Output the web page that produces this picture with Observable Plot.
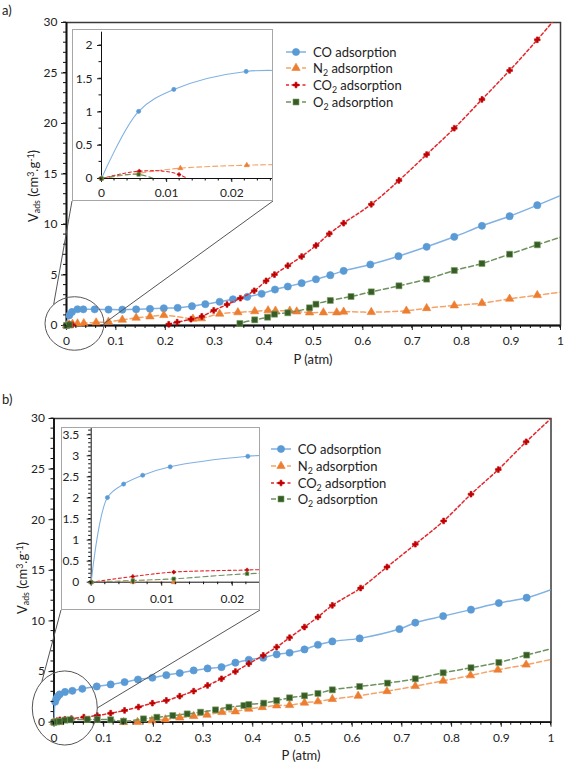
<!DOCTYPE html>
<html><head><meta charset="utf-8">
<script src="https://cdn.jsdelivr.net/npm/d3@7"></script>
<script src="https://cdn.jsdelivr.net/npm/@observablehq/plot@0.6"></script>
<style>
body{margin:0;background:#fff;font-family:Lato,"Open Sans",sans-serif;color:#222}
#root{position:relative;width:568px;height:766px;overflow:hidden;background:#fff}
.lbl{position:absolute;font-size:13px;white-space:nowrap;line-height:1}
.ylab{transform:translate(-50%,-50%) rotate(-90deg)}
.xlab{transform:translate(-50%,-50%)}
sub,sup{font-size:68%;line-height:0}
sub{vertical-align:-0.3em}
sup{vertical-align:0.45em}
.legend{position:absolute;font-size:13px}
.legend .row{display:flex;align-items:center;height:16.7px;white-space:nowrap}
.legend svg{display:block;margin-right:7px}
</style></head><body><div id="root"></div>
<script>
// ---------------- data (P in atm, V in cm3/g) ----------------
const seriesKeys = ["CO", "N2", "CO2", "O2"];
const legendLabels = ["CO adsorption", "N<sub>2</sub> adsorption", "CO<sub>2</sub> adsorption", "O<sub>2</sub> adsorption"];
const xTicks = [0, 0.1, 0.2, 0.3, 0.4, 0.5, 0.6, 0.7, 0.8, 0.9, 1];
const yTicks = [0, 5, 10, 15, 20, 25, 30];
const insetXTicks = [0, 0.01, 0.02];
const insetYTicksA = [0, 0.5, 1, 1.5, 2];
const insetYTicksB = [0, 0.5, 1, 1.5, 2, 2.5, 3, 3.5];

// panel a)
const coA = [[0,0],[0.0057,1.01],[0.0111,1.34],[0.0222,1.61],[0.034,1.6],[0.057,1.6],[0.085,1.58],[0.113,1.57],[0.141,1.6],[0.169,1.65],[0.197,1.71],[0.225,1.75],[0.254,1.91],[0.281,2.11],[0.31,2.35],[0.337,2.6],[0.366,2.84],[0.395,3.14],[0.422,3.56],[0.448,3.86],[0.476,4.19],[0.505,4.58],[0.534,4.98],[0.561,5.41],[0.615,6.04],[0.672,6.86],[0.729,7.79],[0.785,8.78],[0.841,9.87],[0.897,10.82],[0.953,11.91],[1.0,12.87]];
const n2A = [[0,0],[0.0057,0.08],[0.0121,0.155],[0.0223,0.2],[0.035,0.22],[0.06,0.3],[0.085,0.37],[0.113,0.56],[0.141,0.76],[0.169,0.89],[0.197,1.02],[0.256,0.66],[0.273,0.7],[0.31,1.16],[0.347,1.3],[0.381,1.4],[0.408,1.49],[0.423,1.46],[0.452,1.46],[0.466,1.38],[0.492,1.28],[0.52,1.29],[0.547,1.29],[0.561,1.36],[0.617,1.32],[0.688,1.46],[0.729,1.71],[0.785,1.98],[0.841,2.21],[0.897,2.64],[0.953,3.0],[1.0,3.3]];
const co2A = [[0,0],[0.0058,0.11],[0.0119,0.06],[0.0222,-0.6],[0.06,-1.2],[0.113,-1.3],[0.169,-1.0],[0.207,0.12],[0.224,0.33],[0.252,0.62],[0.274,0.9],[0.298,1.49],[0.325,2.08],[0.352,2.7],[0.38,3.44],[0.404,4.42],[0.421,5.04],[0.448,5.92],[0.476,6.83],[0.505,7.92],[0.532,9.08],[0.561,10.13],[0.617,12.0],[0.673,14.36],[0.729,16.93],[0.785,19.53],[0.841,22.38],[0.897,25.25],[0.953,28.29],[1.0,31.0]];
const o2A = [[0,0],[0.0057,0.06],[0.0115,-0.15],[0.0222,-0.6],[0.06,-1.2],[0.14,-1.5],[0.25,-1.2],[0.32,-0.6],[0.351,0.2],[0.381,0.56],[0.407,0.82],[0.421,1.12],[0.448,1.26],[0.492,1.75],[0.505,2.11],[0.534,2.48],[0.576,2.87],[0.617,3.33],[0.673,3.93],[0.729,4.59],[0.785,5.45],[0.841,6.14],[0.897,7.06],[0.953,7.99],[1.0,8.74]];

// panel b)
const coB = [[0,0],[0.0023,2.01],[0.0046,2.33],[0.0073,2.54],[0.0112,2.74],[0.0222,2.99],[0.037,3.1],[0.057,3.3],[0.086,3.53],[0.114,3.73],[0.142,3.96],[0.169,4.22],[0.198,4.39],[0.226,4.65],[0.253,4.85],[0.281,5.11],[0.309,5.31],[0.337,5.44],[0.365,5.88],[0.392,6.17],[0.421,6.37],[0.448,6.7],[0.474,6.86],[0.504,7.19],[0.531,7.65],[0.56,7.98],[0.615,8.28],[0.695,9.2],[0.727,9.83],[0.783,10.48],[0.839,11.12],[0.895,11.77],[0.951,12.3],[1.0,13.1]];
const n2B = [[0,0],[0.0059,0.01],[0.0117,0.0],[0.0221,-0.05],[0.06,-0.3],[0.087,-0.35],[0.114,-0.3],[0.14,0.0],[0.168,0.02],[0.197,0.17],[0.224,0.27],[0.253,0.45],[0.281,0.6],[0.308,0.73],[0.338,0.99],[0.365,1.06],[0.392,1.32],[0.419,1.48],[0.448,1.65],[0.474,1.68],[0.504,1.92],[0.531,2.05],[0.56,2.28],[0.612,2.6],[0.67,3.06],[0.727,3.56],[0.783,4.09],[0.838,4.62],[0.893,5.18],[0.95,5.68],[1.0,6.2]];
const co2B = [[0,0],[0.0059,0.135],[0.0117,0.24],[0.0221,0.29],[0.035,0.35],[0.06,0.5],[0.087,0.66],[0.114,0.89],[0.142,1.16],[0.17,1.5],[0.198,1.88],[0.226,2.15],[0.253,2.57],[0.281,3.07],[0.309,3.63],[0.337,4.29],[0.365,5.01],[0.392,5.78],[0.421,6.6],[0.448,7.42],[0.474,8.35],[0.504,9.4],[0.531,10.39],[0.56,11.54],[0.617,13.25],[0.67,15.33],[0.727,17.58],[0.784,19.88],[0.839,22.52],[0.894,24.96],[0.95,27.7],[1.0,30.0]];
const o2B = [[0,0],[0.0059,0.04],[0.0117,0.08],[0.0221,0.2],[0.033,0.24],[0.067,0.27],[0.087,0.27],[0.114,0.24],[0.14,0.1],[0.18,0.33],[0.207,0.49],[0.239,0.66],[0.268,0.82],[0.295,0.99],[0.325,1.22],[0.352,1.48],[0.382,1.65],[0.392,1.75],[0.422,1.88],[0.448,2.14],[0.474,2.41],[0.504,2.61],[0.531,2.84],[0.56,3.2],[0.615,3.53],[0.671,3.86],[0.727,4.29],[0.783,4.88],[0.839,5.38],[0.895,5.9],[0.951,6.63],[1.0,7.26]];

// zoom regions marked on the main charts (data units of the main chart)
const zoomA = {p: 0.0172, v: 0.15, rp: 0.0597, rv: 2.65};
const zoomB = {p: 0.0227, v: 1.355, rp: 0.0654, rv: 3.66};

// ---------------- styles ----------------
const FONT = "Lato, 'Open Sans', sans-serif";
const ST = {
  CO:  {line: "#80b1e2", fill: "#5b9bd5", mstroke: "#5b9bd5", symbol: "circle",   dash: null,    r: 3.6, ri: 2.1},
  N2:  {line: "#f5a467", fill: "#ed7d31", mstroke: "#ed7d31", symbol: "triangle", dash: "5,3",   r: 3.1, ri: 1.9},
  CO2: {line: "#e3262b", fill: "#c00000", mstroke: "#c00000", symbol: "cross",    dash: "3,2.5", r: 2.4, ri: 1.5},
  O2:  {line: "#6e9160", fill: "#385c28", mstroke: "#7aa35f", symbol: "square",   dash: "5,3",   r: 3.4, ri: 2.0}
};

const root = document.getElementById("root");
function place(el, left, top) {
  el.style.position = "absolute"; el.style.left = left + "px"; el.style.top = top + "px";
  root.appendChild(el); return el;
}
const fmt = d => String(+d.toFixed(4));

function seriesMarks(rows, st, r, sw, xmax, ymax, main) {
  const pts = rows.map(([p, v]) => ({p, v}));
  const vis = pts.filter(d => d.v >= 0 && d.v <= ymax && d.p <= xmax && (!main || d.p < 0.999));
  return [
    Plot.line(pts, {x: "p", y: "v", stroke: st.line, strokeWidth: sw, strokeDasharray: st.dash, curve: "catmull-rom", clip: true}),
    Plot.dot(vis, {x: "p", y: "v", symbol: st.symbol, r, fill: st.fill, stroke: st.mstroke, strokeWidth: 0.6})
  ];
}

// minor ticks drawn through the plot's own scales
function minorTicks(svg, xs, ys, len) {
  const sx = svg.scale("x"), sy = svg.scale("y");
  const y0 = sy.apply(0), x0 = sx.apply(0);
  const g = d3.select(svg).append("g").attr("stroke", "#111").attr("stroke-width", 1);
  xs.forEach(v => { const x = sx.apply(v); g.append("line").attr("x1", x).attr("x2", x).attr("y1", y0).attr("y2", y0 + len); });
  ys.forEach(v => { const y = sy.apply(v); g.append("line").attr("y1", y).attr("y2", y).attr("x1", x0).attr("x2", x0 - len); });
}

function mainPlot(datasets, m, top) {
  const svg = Plot.plot({
    width: 568, height: m.height, marginLeft: m.left, marginRight: m.right, marginTop: m.top, marginBottom: m.bottom,
    x: {domain: [0, 1], ticks: xTicks, tickSize: 5, tickPadding: 6, tickFormat: fmt, label: null},
    y: {domain: [0, 30], ticks: yTicks, tickSize: 5, tickPadding: 4, tickFormat: fmt, label: null},
    style: {background: "transparent", fontFamily: FONT, fontSize: "12px", color: "#222", overflow: "visible"},
    marks: [
      Plot.frame({stroke: "#3a3a3a", strokeWidth: 1.5}),
      Plot.ruleX([0], {stroke: "#111", strokeWidth: 1.8}),
      Plot.ruleY([0], {stroke: "#111", strokeWidth: 1.8}),
      ...seriesKeys.flatMap((k, i) => seriesMarks(datasets[i], ST[k], ST[k].r, 1.5, 1, 30, true))
    ]
  });
  minorTicks(svg, d3.range(0, 1.0001, 0.02), d3.range(0, 30.001, 1), 3);
  return place(svg, 0, top);
}

function insetPlot(datasets, box, m, xmax, ymax, yMajor, yMinorStep) {
  const svg = Plot.plot({
    width: box.width, height: box.height, marginLeft: m.left, marginRight: 0, marginTop: m.top, marginBottom: m.bottom,
    x: {domain: [0, xmax], ticks: insetXTicks, tickSize: 4, tickPadding: m.xPad, tickFormat: fmt, label: null},
    y: {domain: [0, ymax], ticks: yMajor, tickSize: 4, tickPadding: m.yPad, tickFormat: fmt, label: null},
    style: {background: "transparent", fontFamily: FONT, fontSize: "12px", color: "#222", overflow: "visible"},
    marks: [
      Plot.ruleX([0], {stroke: "#111", strokeWidth: 1}),
      Plot.ruleY([0], {stroke: "#111", strokeWidth: 1}),
      ...seriesKeys.flatMap((k, i) => seriesMarks(datasets[i], ST[k], ST[k].ri, 1.1, xmax, ymax, false))
    ]
  });
  minorTicks(svg, d3.range(0, xmax, 0.002), d3.range(0, ymax, yMinorStep), 2.5);
  const s = d3.select(svg);
  s.insert("rect", ":first-child").attr("x", 0).attr("y", 0).attr("width", box.width).attr("height", box.height).attr("fill", "#fff");
  s.append("rect").attr("x", 0.5).attr("y", 0.5).attr("width", box.width - 1).attr("height", box.height - 1)
    .attr("fill", "none").attr("stroke", "#a6a6a6").attr("stroke-width", 1);
  return place(svg, box.left, box.top);
}

function zoomMarks(svg, svgTop, z, box) {
  const sx = svg.scale("x"), sy = svg.scale("y");
  const cx = sx.apply(z.p), cy = sy.apply(z.v);
  const rx = sx.apply(z.p + z.rp) - cx, ry = cy - sy.apply(z.v + z.rv);
  const g = d3.select(svg).append("g").attr("fill", "none").attr("stroke", "#555").attr("stroke-width", 1);
  g.append("ellipse").attr("cx", cx).attr("cy", cy).attr("rx", rx).attr("ry", ry);
  const a = Math.SQRT1_2;
  const bl = [box.left, box.top + box.height - svgTop], br = [box.left + box.width, box.top + box.height - svgTop];
  g.append("line").attr("x1", cx - rx * a).attr("y1", cy - ry * a).attr("x2", bl[0]).attr("y2", bl[1]);
  g.append("line").attr("x1", cx + rx).attr("y1", cy).attr("x2", br[0]).attr("y2", br[1]);
}

function legend(left, top) {
  const div = document.createElement("div");
  div.className = "legend";
  seriesKeys.forEach((k, i) => {
    const st = ST[k];
    const row = document.createElement("div"); row.className = "row";
    const s = d3.create("svg").attr("width", 20).attr("height", 12);
    s.append("line").attr("x1", 0).attr("x2", 20).attr("y1", 6).attr("y2", 6)
      .attr("stroke", st.line).attr("stroke-width", 1.5).attr("stroke-dasharray", st.dash);
    const sym = {circle: d3.symbolCircle, triangle: d3.symbolTriangle, cross: d3.symbolCross, square: d3.symbolSquare}[st.symbol];
    s.append("path").attr("transform", "translate(10,6)").attr("d", d3.symbol(sym, Math.PI * st.r * st.r)())
      .attr("fill", st.fill).attr("stroke", st.mstroke).attr("stroke-width", 0.6);
    row.appendChild(s.node());
    const t = document.createElement("span"); t.innerHTML = legendLabels[i];
    row.appendChild(t);
    div.appendChild(row);
  });
  return place(div, left, top);
}

function label(html, cls, left, top) {
  const d = document.createElement("div");
  d.className = "lbl " + cls; d.innerHTML = html;
  return place(d, left, top);
}

const yLabel = "V<sub>ads</sub> (cm<sup>3</sup>.g<sup>-1</sup>)";
const xLabel = "P (atm)";

// ---------------- panel a ----------------
label("a)", "", 2, 4);
const insetBoxA = {left: 72, top: 29, width: 201, height: 172};
const mA = mainPlot([coA, n2A, co2A, o2A], {height: 375, left: 66, right: 8, top: 22, bottom: 50}, 0);
zoomMarks(mA, 0, zoomA, insetBoxA);
insetPlot([coA, n2A, co2A, o2A], insetBoxA, {left: 29, top: 2.7, bottom: 23, xPad: 6, yPad: 5}, 0.0264, 2.2, insetYTicksA, 0.25);
legend(286, 43.4);
label(yLabel, "ylab", 33, 186);
label(xLabel, "xlab", 313, 359);

// ---------------- panel b ----------------
label("b)", "", 2, 393);
const insetBoxB = {left: 61, top: 427, width: 199, height: 183};
const mB = mainPlot([coB, n2B, co2B, o2B], {height: 376, left: 53.5, right: 17.5, top: 28, bottom: 44.3}, 390);
zoomMarks(mB, 390, zoomB, insetBoxB);
insetPlot([coB, n2B, co2B, o2B], insetBoxB, {left: 29.7, top: 1, bottom: 28.3, xPad: 8, yPad: 8}, 0.024, 3.65, insetYTicksB, 0.1);
legend(270.7, 441);
label(yLabel, "ylab", 22, 578);
label(xLabel, "xlab", 301, 755);
</script></body></html>
